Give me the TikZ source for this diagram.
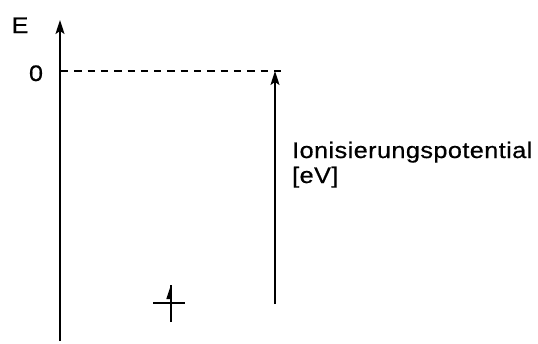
\documentclass[tikz,border=0pt]{standalone}
\usepackage{fontspec}
\setmainfont[FakeBold=0.6,FakeStretch=1.12]{Liberation Sans}
\newfontfamily\labfont[LetterSpace=2,FakeBold=0.6,FakeStretch=1.12]{Liberation Sans}
\usetikzlibrary{arrows.meta}
\begin{document}
\begin{tikzpicture}[x=1pt,y=-1pt,
  axisline/.style={line width=1.7pt},
  dashline/.style={line width=1.4pt,dash pattern=on 7.3pt off 6pt},
  tip/.style={-{Stealth[length=14pt,width=9pt,inset=3pt]}},
  lab/.style={inner sep=0pt,font=\fontsize{22.5}{25}\selectfont}]
\useasboundingbox (0,0) rectangle (538,343);
% axis
\coordinate (ab) at (60,341);
\coordinate (at) at (60,20);
\draw[axisline,tip] (ab) -- (at);
\node[lab,anchor=base] (E) at (20,33) {E};
\node[lab,anchor=base] (zero) at (36,81) {0};
% zero level
\coordinate (zl) at (61,71);
\coordinate (zr) at (282,71);
\draw[dashline] (zl) -- (zr);
% ionisation arrow
\coordinate (ib) at (275,304);
\coordinate (it) at (275,71);
\draw[axisline,tip] (ib) -- (it);
\node[lab,anchor=base west] (ip) at (292,158) {\labfont Ionisierungspotential};
\node[lab,anchor=base west] (ev) at (292,183) {\labfont [eV]};
% electron level
\coordinate (hl) at (153,303);
\coordinate (hr) at (185,303);
\coordinate (vb) at (171,322);
\coordinate (vt) at (171,285);
\draw[line width=1.4pt] (hl) -- (hr);
\draw[line width=1.6pt] (vb) -- (vt);
\fill (vt) -- (166.3,299) -- (171.8,299) -- cycle;
\end{tikzpicture}
\end{document}
